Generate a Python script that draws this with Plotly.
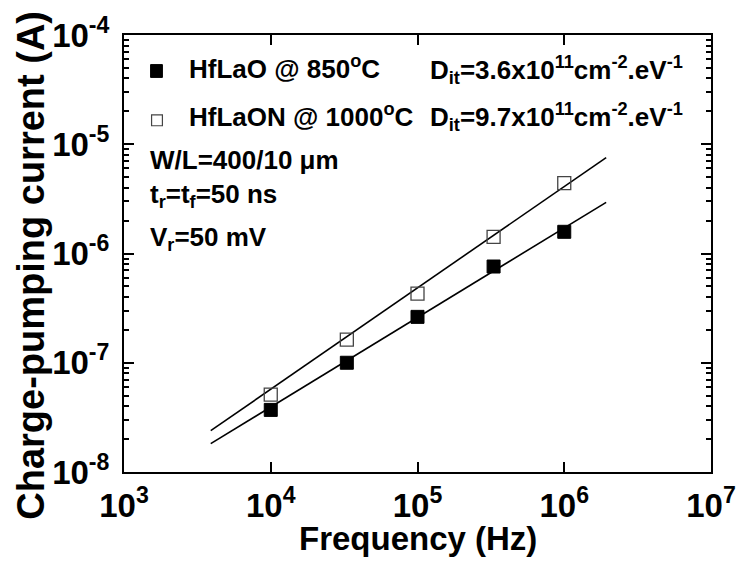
import plotly.graph_objects as go

# ---------------- data ----------------
freq = [1e4, 3.3e4, 1e5, 3.3e5, 1e6]
icp_hflao = [3.7e-8, 1.0e-7, 2.63e-7, 7.6e-7, 1.58e-6]      # filled squares
icp_hflaon = [5.1e-8, 1.63e-7, 4.3e-7, 1.42e-6, 4.4e-6]     # open squares

fit_freq = [3.9e3, 1.93e6]
fit_hflao = [1.82e-8, 2.94e-6]
fit_hflaon = [2.39e-8, 7.55e-6]

x_tickvals = [1e3, 1e4, 1e5, 1e6, 1e7]
x_ticktext = ["10<sup>3</sup>", "10<sup>4</sup>", "10<sup>5</sup>", "10<sup>6</sup>", "10<sup>7</sup>"]
y_tickvals = [1e-8, 1e-7, 1e-6, 1e-5, 1e-4]
y_ticktext = ["10<sup>-8</sup>", "10<sup>-7</sup>", "10<sup>-6</sup>", "10<sup>-5</sup>", "10<sup>-4</sup>"]
y_minor = [k * 10.0 ** e for e in range(-8, -4) for k in range(2, 10)]

legend_labels = ["HfLaO @ 850<sup>o</sup>C", "HfLaON @ 1000<sup>o</sup>C"]
dit_labels = ["D<sub>it</sub>=3.6x10<sup>11</sup>cm<sup>-2</sup>.eV<sup>-1</sup>",
              "D<sub>it</sub>=9.7x10<sup>11</sup>cm<sup>-2</sup>.eV<sup>-1</sup>"]
cond_labels = ["W/L=400/10 \u03bcm", "t<sub>r</sub>=t<sub>f</sub>=50 ns", "V<sub>r</sub>=50 mV"]

# ---------------- layout geometry ----------------
W, H = 748, 565
L, R, T, B = 124, 720, 29, 472
FONT = "Liberation Sans, Arial, Helvetica, sans-serif"


def px(x):
    return (x - L) / (R - L)


def py(y):
    return (B - y) / (B - T)


fig = go.Figure()

fig.add_trace(go.Scatter(x=fit_freq, y=fit_hflao, mode="lines",
                         line=dict(color="black", width=1.6), showlegend=False, hoverinfo="skip"))
fig.add_trace(go.Scatter(x=fit_freq, y=fit_hflaon, mode="lines",
                         line=dict(color="black", width=1.6), showlegend=False, hoverinfo="skip"))
fig.add_trace(go.Scatter(x=freq, y=icp_hflao, mode="markers", name=legend_labels[0],
                         marker=dict(symbol="square", size=13, color="black",
                                     line=dict(color="black", width=1)), showlegend=False))
fig.add_trace(go.Scatter(x=freq, y=icp_hflaon, mode="markers", name=legend_labels[1],
                         marker=dict(symbol="square-open", size=13, color="#444444",
                                     line=dict(color="#444444", width=1.3)), showlegend=False))

axis_common = dict(type="log", showline=True, linewidth=2, linecolor="black",
                   mirror="ticks", ticks="inside", ticklen=10, tickwidth=2,
                   tickcolor="black", showgrid=False, zeroline=False,
                   tickfont=dict(family=FONT, size=33, color="black", weight="bold"))

fig.update_xaxes(range=[3, 7], tickmode="array", tickvals=x_tickvals, ticktext=x_ticktext,
                 ticklabelstandoff=3, **axis_common)
fig.update_yaxes(range=[-8, -4], tickmode="array", tickvals=y_tickvals, ticktext=y_ticktext,
                 ticklabelstandoff=6,
                 minor=dict(tickmode="array", tickvals=y_minor, ticks="inside", ticklen=5,
                            tickwidth=1.5, tickcolor="black", showgrid=False),
                 **axis_common)

annotations = []
# axis titles
annotations.append(dict(text="Frequency (Hz)", xref="paper", yref="paper",
                        x=px(422), y=py(539), xanchor="center", yanchor="middle",
                        showarrow=False, font=dict(family=FONT, size=33, color="black", weight="bold")))
annotations.append(dict(text="Charge-pumping current (A)", xref="paper", yref="paper",
                        x=px(29.5), y=py(262), xanchor="center", yanchor="middle", textangle=-90,
                        showarrow=False, font=dict(family=FONT, size=38, color="black", weight="bold")))

txt_font = dict(family=FONT, size=26, color="black", weight="bold")
for lab, yc in zip(legend_labels, [62, 111]):
    annotations.append(dict(text=lab, xref="paper", yref="paper", x=px(188), y=py(yc),
                            xanchor="left", yanchor="middle", showarrow=False, font=txt_font))
for lab, yc in zip(dit_labels, [64, 112]):
    annotations.append(dict(text=lab, xref="paper", yref="paper", x=px(433), y=py(yc),
                            xanchor="left", yanchor="middle", showarrow=False, font=txt_font))
for lab, yc in zip(cond_labels, [156, 192, 235]):
    annotations.append(dict(text=lab, xref="paper", yref="paper", x=px(148), y=py(yc),
                            xanchor="left", yanchor="middle", showarrow=False, font=txt_font))

shapes = [
    dict(type="rect", xref="paper", yref="paper", x0=px(151), x1=px(163), y0=py(72), y1=py(59),
         fillcolor="black", line=dict(color="black", width=1)),
    dict(type="rect", xref="paper", yref="paper", x0=px(152), x1=px(163), y0=py(121), y1=py(110),
         fillcolor="white", line=dict(color="#444444", width=1.2)),
]

fig.update_layout(width=W, height=H, margin=dict(l=L, r=W - R, t=T, b=H - B),
                  paper_bgcolor="white", plot_bgcolor="white",
                  font=dict(family=FONT, color="black"),
                  annotations=annotations, shapes=shapes, showlegend=False)

fig.write_html("out.html")
